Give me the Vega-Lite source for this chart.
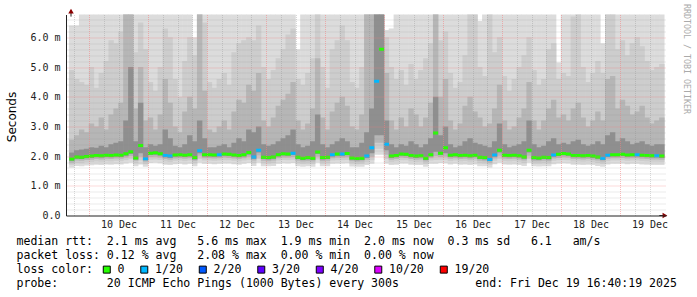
{
  "$schema": "https://vega.github.io/schema/vega-lite/v6.json",
  "width": 600,
  "height": 201,
  "autosize": "none",
  "padding": {"left": 66, "top": 14.5, "right": 31, "bottom": 81.5},
  "background": "white",
  "datasets": {
    "smoke": [
      {"t":"2025-12-09T17:00Z","m":1.90,"L":"0","a1":1.62,"a2":1.71,"a3":1.78,"a4":1.84,"b4":2.12,"b3":2.55,"b2":4.9,"b1":6.4},
      {"t":"2025-12-09T19:00Z","m":1.97,"L":"0","a1":1.67,"a2":1.77,"a3":1.85,"a4":1.91,"b4":2.20,"b3":2.70,"b2":4.6,"b1":6.4},
      {"t":"2025-12-09T21:00Z","m":1.96,"L":"0","a1":1.66,"a2":1.76,"a3":1.84,"a4":1.90,"b4":2.22,"b3":2.90,"b2":4.5,"b1":7.2},
      {"t":"2025-12-09T23:00Z","m":1.99,"L":"0","a1":1.68,"a2":1.79,"a3":1.87,"a4":1.93,"b4":2.25,"b3":2.80,"b2":4.4,"b1":7.2},
      {"t":"2025-12-10T01:00Z","m":2.00,"L":"0","a1":1.69,"a2":1.80,"a3":1.88,"a4":1.94,"b4":2.30,"b3":3.10,"b2":5.0,"b1":7.3},
      {"t":"2025-12-10T03:00Z","m":2.02,"L":"0","a1":1.71,"a2":1.82,"a3":1.90,"a4":1.96,"b4":2.28,"b3":3.00,"b2":4.3,"b1":7.1},
      {"t":"2025-12-10T05:00Z","m":2.01,"L":"0","a1":1.70,"a2":1.81,"a3":1.89,"a4":1.95,"b4":2.35,"b3":3.30,"b2":4.8,"b1":7.2},
      {"t":"2025-12-10T07:00Z","m":2.03,"L":"0","a1":1.72,"a2":1.83,"a3":1.91,"a4":1.97,"b4":2.30,"b3":2.90,"b2":5.2,"b1":7.4},
      {"t":"2025-12-10T09:00Z","m":2.02,"L":"0","a1":1.71,"a2":1.82,"a3":1.90,"a4":1.96,"b4":2.40,"b3":3.40,"b2":5.9,"b1":7.2},
      {"t":"2025-12-10T11:00Z","m":2.04,"L":"0","a1":1.73,"a2":1.84,"a3":1.92,"a4":1.98,"b4":2.45,"b3":3.60,"b2":5.8,"b1":7.5},
      {"t":"2025-12-10T13:00Z","m":2.03,"L":"0","a1":1.72,"a2":1.83,"a3":1.91,"a4":1.97,"b4":2.50,"b3":3.80,"b2":6.2,"b1":7.5},
      {"t":"2025-12-10T15:00Z","m":2.08,"L":"0","a1":1.75,"a2":1.86,"a3":1.95,"a4":2.01,"b4":3.20,"b3":7.00,"b2":7.2,"b1":7.6},
      {"t":"2025-12-10T17:00Z","m":2.15,"L":"0","a1":1.78,"a2":1.90,"a3":2.00,"a4":2.07,"b4":5.00,"b3":6.90,"b2":7.2,"b1":7.6},
      {"t":"2025-12-10T19:00Z","m":1.94,"L":"0","a1":1.66,"a2":1.76,"a3":1.84,"a4":1.89,"b4":2.50,"b3":3.60,"b2":5.5,"b1":7.3},
      {"t":"2025-12-10T21:00Z","m":2.36,"L":"0","a1":1.72,"a2":1.85,"a3":1.98,"a4":2.10,"b4":3.80,"b3":5.00,"b2":6.5,"b1":7.4},
      {"t":"2025-12-10T23:00Z","m":1.91,"L":"1/20","a1":1.64,"a2":1.73,"a3":1.81,"a4":1.86,"b4":2.30,"b3":3.20,"b2":5.6,"b1":7.3},
      {"t":"2025-12-11T01:00Z","m":2.10,"L":"0","a1":1.77,"a2":1.88,"a3":1.97,"a4":2.04,"b4":2.40,"b3":3.30,"b2":4.5,"b1":7.2},
      {"t":"2025-12-11T03:00Z","m":2.11,"L":"0","a1":1.78,"a2":1.89,"a3":1.98,"a4":2.05,"b4":2.35,"b3":2.90,"b2":4.2,"b1":7.1},
      {"t":"2025-12-11T05:00Z","m":2.08,"L":"0","a1":1.76,"a2":1.87,"a3":1.95,"a4":2.02,"b4":2.40,"b3":3.40,"b2":5.0,"b1":7.2},
      {"t":"2025-12-11T07:00Z","m":2.02,"L":"1/20","a1":1.71,"a2":1.82,"a3":1.90,"a4":1.96,"b4":2.90,"b3":4.60,"b2":6.3,"b1":7.4},
      {"t":"2025-12-11T09:00Z","m":2.00,"L":"1/20","a1":1.70,"a2":1.80,"a3":1.88,"a4":1.94,"b4":2.60,"b3":3.80,"b2":6.0,"b1":7.3},
      {"t":"2025-12-11T11:00Z","m":2.04,"L":"0","a1":1.73,"a2":1.84,"a3":1.92,"a4":1.98,"b4":2.35,"b3":3.00,"b2":4.6,"b1":7.2},
      {"t":"2025-12-11T13:00Z","m":2.05,"L":"0","a1":1.74,"a2":1.85,"a3":1.93,"a4":1.99,"b4":2.30,"b3":2.80,"b2":4.0,"b1":7.1},
      {"t":"2025-12-11T15:00Z","m":2.03,"L":"0","a1":1.72,"a2":1.83,"a3":1.91,"a4":1.97,"b4":2.40,"b3":3.50,"b2":5.2,"b1":7.2},
      {"t":"2025-12-11T17:00Z","m":2.05,"L":"0","a1":1.74,"a2":1.85,"a3":1.93,"a4":1.99,"b4":2.70,"b3":4.00,"b2":6.0,"b1":7.3},
      {"t":"2025-12-11T19:00Z","m":1.95,"L":"0","a1":1.66,"a2":1.76,"a3":1.84,"a4":1.89,"b4":2.50,"b3":3.60,"b2":5.4,"b1":6.0},
      {"t":"2025-12-11T21:00Z","m":2.18,"L":"1/20","a1":1.78,"a2":1.90,"a3":2.01,"a4":2.10,"b4":3.20,"b3":7.00,"b2":7.2,"b1":7.4},
      {"t":"2025-12-11T23:00Z","m":2.05,"L":"0","a1":1.74,"a2":1.85,"a3":1.93,"a4":1.99,"b4":2.60,"b3":4.20,"b2":6.5,"b1":7.3},
      {"t":"2025-12-12T01:00Z","m":2.05,"L":"0","a1":1.74,"a2":1.85,"a3":1.93,"a4":1.99,"b4":2.30,"b3":2.90,"b2":4.5,"b1":7.2},
      {"t":"2025-12-12T03:00Z","m":2.04,"L":"0","a1":1.73,"a2":1.84,"a3":1.92,"a4":1.98,"b4":2.30,"b3":2.80,"b2":4.3,"b1":7.1},
      {"t":"2025-12-12T05:00Z","m":2.05,"L":"1/20","a1":1.74,"a2":1.85,"a3":1.93,"a4":1.99,"b4":2.35,"b3":3.00,"b2":4.6,"b1":7.2},
      {"t":"2025-12-12T07:00Z","m":2.07,"L":"0","a1":1.75,"a2":1.86,"a3":1.95,"a4":2.01,"b4":2.40,"b3":3.20,"b2":4.8,"b1":7.3},
      {"t":"2025-12-12T09:00Z","m":2.06,"L":"0","a1":1.75,"a2":1.86,"a3":1.94,"a4":2.00,"b4":2.30,"b3":2.90,"b2":4.4,"b1":7.2},
      {"t":"2025-12-12T11:00Z","m":2.04,"L":"0","a1":1.73,"a2":1.84,"a3":1.92,"a4":1.98,"b4":2.45,"b3":3.50,"b2":5.5,"b1":7.2},
      {"t":"2025-12-12T13:00Z","m":2.02,"L":"0","a1":1.71,"a2":1.82,"a3":1.90,"a4":1.96,"b4":2.60,"b3":3.90,"b2":5.8,"b1":7.3},
      {"t":"2025-12-12T15:00Z","m":2.05,"L":"0","a1":1.74,"a2":1.85,"a3":1.93,"a4":1.99,"b4":2.50,"b3":3.80,"b2":5.9,"b1":7.2},
      {"t":"2025-12-12T17:00Z","m":2.12,"L":"0","a1":1.77,"a2":1.88,"a3":1.98,"a4":2.05,"b4":2.90,"b3":4.40,"b2":6.0,"b1":7.3},
      {"t":"2025-12-12T19:00Z","m":1.97,"L":"1/20","a1":1.67,"a2":1.77,"a3":1.85,"a4":1.91,"b4":2.80,"b3":4.20,"b2":5.9,"b1":7.3},
      {"t":"2025-12-12T21:00Z","m":2.20,"L":"1/20","a1":1.78,"a2":1.90,"a3":2.02,"a4":2.12,"b4":3.00,"b3":4.80,"b2":6.4,"b1":7.3},
      {"t":"2025-12-12T23:00Z","m":1.96,"L":"0","a1":1.66,"a2":1.76,"a3":1.84,"a4":1.90,"b4":2.40,"b3":3.20,"b2":5.0,"b1":7.2},
      {"t":"2025-12-13T01:00Z","m":1.95,"L":"0","a1":1.66,"a2":1.75,"a3":1.83,"a4":1.89,"b4":2.35,"b3":3.00,"b2":4.6,"b1":7.2},
      {"t":"2025-12-13T03:00Z","m":1.97,"L":"0","a1":1.67,"a2":1.77,"a3":1.85,"a4":1.91,"b4":2.40,"b3":3.30,"b2":4.9,"b1":7.2},
      {"t":"2025-12-13T05:00Z","m":2.05,"L":"0","a1":1.74,"a2":1.85,"a3":1.93,"a4":1.99,"b4":2.50,"b3":3.70,"b2":5.3,"b1":7.3},
      {"t":"2025-12-13T07:00Z","m":2.08,"L":"0","a1":1.76,"a2":1.87,"a3":1.95,"a4":2.02,"b4":2.60,"b3":3.90,"b2":5.6,"b1":7.3},
      {"t":"2025-12-13T09:00Z","m":2.07,"L":"0","a1":1.75,"a2":1.86,"a3":1.95,"a4":2.01,"b4":2.70,"b3":4.10,"b2":6.1,"b1":7.3},
      {"t":"2025-12-13T11:00Z","m":2.10,"L":"1/20","a1":1.77,"a2":1.88,"a3":1.97,"a4":2.04,"b4":2.90,"b3":4.50,"b2":6.3,"b1":7.4},
      {"t":"2025-12-13T13:00Z","m":1.96,"L":"0","a1":1.66,"a2":1.76,"a3":1.84,"a4":1.90,"b4":2.40,"b3":3.20,"b2":4.6,"b1":5.6},
      {"t":"2025-12-13T15:00Z","m":1.93,"L":"0","a1":1.64,"a2":1.74,"a3":1.82,"a4":1.87,"b4":2.30,"b3":2.90,"b2":4.4,"b1":7.1},
      {"t":"2025-12-13T17:00Z","m":1.95,"L":"0","a1":1.66,"a2":1.75,"a3":1.83,"a4":1.89,"b4":2.35,"b3":3.10,"b2":4.8,"b1":7.2},
      {"t":"2025-12-13T19:00Z","m":1.93,"L":"0","a1":1.64,"a2":1.74,"a3":1.82,"a4":1.87,"b4":2.50,"b3":3.60,"b2":5.3,"b1":7.2},
      {"t":"2025-12-13T21:00Z","m":2.14,"L":"0","a1":1.78,"a2":1.89,"a3":1.99,"a4":2.07,"b4":3.40,"b3":5.30,"b2":7.0,"b1":7.4},
      {"t":"2025-12-13T23:00Z","m":1.95,"L":"0","a1":1.66,"a2":1.75,"a3":1.83,"a4":1.89,"b4":2.40,"b3":3.30,"b2":5.0,"b1":7.3},
      {"t":"2025-12-14T01:00Z","m":1.96,"L":"0","a1":1.66,"a2":1.76,"a3":1.84,"a4":1.90,"b4":2.30,"b3":2.90,"b2":4.3,"b1":7.2},
      {"t":"2025-12-14T03:00Z","m":2.05,"L":"1/20","a1":1.74,"a2":1.85,"a3":1.93,"a4":1.99,"b4":2.40,"b3":3.50,"b2":5.6,"b1":7.3},
      {"t":"2025-12-14T05:00Z","m":2.07,"L":"0","a1":1.75,"a2":1.86,"a3":1.95,"a4":2.01,"b4":2.50,"b3":3.80,"b2":5.9,"b1":7.3},
      {"t":"2025-12-14T07:00Z","m":2.07,"L":"1/20","a1":1.75,"a2":1.86,"a3":1.95,"a4":2.01,"b4":2.60,"b3":4.00,"b2":6.4,"b1":7.3},
      {"t":"2025-12-14T09:00Z","m":2.09,"L":"0","a1":1.76,"a2":1.87,"a3":1.96,"a4":2.03,"b4":2.50,"b3":3.70,"b2":5.9,"b1":7.2},
      {"t":"2025-12-14T11:00Z","m":1.94,"L":"0","a1":1.65,"a2":1.75,"a3":1.83,"a4":1.88,"b4":2.30,"b3":3.00,"b2":4.5,"b1":7.2},
      {"t":"2025-12-14T13:00Z","m":1.92,"L":"0","a1":1.64,"a2":1.73,"a3":1.81,"a4":1.86,"b4":2.30,"b3":2.90,"b2":4.3,"b1":7.1},
      {"t":"2025-12-14T15:00Z","m":1.93,"L":"0","a1":1.64,"a2":1.74,"a3":1.82,"a4":1.87,"b4":2.45,"b3":3.40,"b2":5.0,"b1":7.2},
      {"t":"2025-12-14T17:00Z","m":2.00,"L":"1/20","a1":1.70,"a2":1.80,"a3":1.88,"a4":1.94,"b4":2.80,"b3":7.00,"b2":7.2,"b1":7.4},
      {"t":"2025-12-14T19:00Z","m":2.28,"L":"1/20","a1":1.74,"a2":1.86,"a3":1.98,"a4":2.10,"b4":3.60,"b3":7.00,"b2":7.2,"b1":7.4},
      {"t":"2025-12-14T21:00Z","m":4.52,"L":"1/20","a1":2.05,"a2":2.25,"a3":2.45,"a4":2.70,"b4":7.00,"b3":7.20,"b2":7.3,"b1":7.5},
      {"t":"2025-12-14T23:00Z","m":5.60,"L":"0","a1":2.05,"a2":2.25,"a3":2.45,"a4":2.70,"b4":7.00,"b3":7.20,"b2":7.3,"b1":7.5},
      {"t":"2025-12-15T01:00Z","m":2.40,"L":"1/20","a1":1.75,"a2":1.90,"a3":2.05,"a4":2.20,"b4":3.20,"b3":4.80,"b2":6.0,"b1":6.25},
      {"t":"2025-12-15T03:00Z","m":2.00,"L":"0","a1":1.70,"a2":1.80,"a3":1.88,"a4":1.94,"b4":2.40,"b3":3.20,"b2":5.0,"b1":6.3},
      {"t":"2025-12-15T05:00Z","m":2.02,"L":"0","a1":1.71,"a2":1.82,"a3":1.90,"a4":1.96,"b4":2.30,"b3":2.90,"b2":4.6,"b1":7.2},
      {"t":"2025-12-15T07:00Z","m":2.07,"L":"0","a1":1.75,"a2":1.86,"a3":1.95,"a4":2.01,"b4":2.40,"b3":3.30,"b2":4.9,"b1":7.2},
      {"t":"2025-12-15T09:00Z","m":2.06,"L":"0","a1":1.75,"a2":1.86,"a3":1.94,"a4":2.00,"b4":2.35,"b3":3.00,"b2":4.4,"b1":7.1},
      {"t":"2025-12-15T11:00Z","m":2.02,"L":"0","a1":1.71,"a2":1.82,"a3":1.90,"a4":1.96,"b4":2.50,"b3":3.60,"b2":5.1,"b1":7.2},
      {"t":"2025-12-15T13:00Z","m":2.00,"L":"0","a1":1.70,"a2":1.80,"a3":1.88,"a4":1.94,"b4":2.40,"b3":3.40,"b2":4.6,"b1":7.2},
      {"t":"2025-12-15T15:00Z","m":2.01,"L":"0","a1":1.70,"a2":1.81,"a3":1.89,"a4":1.95,"b4":2.30,"b3":3.00,"b2":4.9,"b1":7.2},
      {"t":"2025-12-15T17:00Z","m":1.93,"L":"0","a1":1.64,"a2":1.74,"a3":1.82,"a4":1.87,"b4":2.40,"b3":3.30,"b2":5.3,"b1":7.2},
      {"t":"2025-12-15T19:00Z","m":2.05,"L":"0","a1":1.74,"a2":1.85,"a3":1.93,"a4":1.99,"b4":2.60,"b3":3.80,"b2":5.8,"b1":7.3},
      {"t":"2025-12-15T21:00Z","m":2.78,"L":"0","a1":1.74,"a2":1.87,"a3":2.00,"a4":2.15,"b4":4.00,"b3":7.00,"b2":7.2,"b1":7.4},
      {"t":"2025-12-15T23:00Z","m":2.10,"L":"0","a1":1.77,"a2":1.88,"a3":1.97,"a4":2.04,"b4":2.70,"b3":4.00,"b2":5.9,"b1":7.3},
      {"t":"2025-12-16T01:00Z","m":2.28,"L":"0","a1":1.76,"a2":1.88,"a3":1.99,"a4":2.10,"b4":3.00,"b3":4.60,"b2":6.2,"b1":7.3},
      {"t":"2025-12-16T03:00Z","m":2.03,"L":"0","a1":1.72,"a2":1.83,"a3":1.91,"a4":1.97,"b4":2.40,"b3":3.20,"b2":4.8,"b1":7.2},
      {"t":"2025-12-16T05:00Z","m":2.05,"L":"0","a1":1.74,"a2":1.85,"a3":1.93,"a4":1.99,"b4":2.30,"b3":2.90,"b2":4.3,"b1":7.1},
      {"t":"2025-12-16T07:00Z","m":2.02,"L":"0","a1":1.71,"a2":1.82,"a3":1.90,"a4":1.96,"b4":2.35,"b3":3.10,"b2":4.5,"b1":7.2},
      {"t":"2025-12-16T09:00Z","m":2.03,"L":"0","a1":1.72,"a2":1.83,"a3":1.91,"a4":1.97,"b4":2.50,"b3":3.70,"b2":5.4,"b1":7.2},
      {"t":"2025-12-16T11:00Z","m":2.01,"L":"0","a1":1.70,"a2":1.81,"a3":1.89,"a4":1.95,"b4":2.60,"b3":4.00,"b2":6.8,"b1":7.3},
      {"t":"2025-12-16T13:00Z","m":2.03,"L":"0","a1":1.72,"a2":1.83,"a3":1.91,"a4":1.97,"b4":2.45,"b3":3.50,"b2":6.9,"b1":7.3},
      {"t":"2025-12-16T15:00Z","m":1.96,"L":"0","a1":1.66,"a2":1.76,"a3":1.84,"a4":1.90,"b4":2.40,"b3":3.30,"b2":5.0,"b1":6.55},
      {"t":"2025-12-16T17:00Z","m":1.95,"L":"0","a1":1.66,"a2":1.75,"a3":1.83,"a4":1.89,"b4":2.35,"b3":3.00,"b2":4.7,"b1":7.2},
      {"t":"2025-12-16T19:00Z","m":1.89,"L":"1/20","a1":1.62,"a2":1.71,"a3":1.78,"a4":1.84,"b4":2.30,"b3":3.10,"b2":6.8,"b1":7.3},
      {"t":"2025-12-16T21:00Z","m":2.04,"L":"1/20","a1":1.73,"a2":1.84,"a3":1.92,"a4":1.98,"b4":2.50,"b3":3.60,"b2":5.5,"b1":7.2},
      {"t":"2025-12-16T23:00Z","m":2.20,"L":"0","a1":1.78,"a2":1.90,"a3":2.01,"a4":2.12,"b4":3.10,"b3":4.40,"b2":6.0,"b1":7.3},
      {"t":"2025-12-17T01:00Z","m":2.03,"L":"0","a1":1.72,"a2":1.83,"a3":1.91,"a4":1.97,"b4":2.40,"b3":3.20,"b2":4.7,"b1":7.2},
      {"t":"2025-12-17T03:00Z","m":2.02,"L":"0","a1":1.71,"a2":1.82,"a3":1.90,"a4":1.96,"b4":2.30,"b3":2.90,"b2":4.2,"b1":7.1},
      {"t":"2025-12-17T05:00Z","m":2.03,"L":"0","a1":1.72,"a2":1.83,"a3":1.91,"a4":1.97,"b4":2.35,"b3":3.00,"b2":4.6,"b1":7.2},
      {"t":"2025-12-17T07:00Z","m":2.01,"L":"0","a1":1.70,"a2":1.81,"a3":1.89,"a4":1.95,"b4":2.40,"b3":3.30,"b2":5.0,"b1":7.2},
      {"t":"2025-12-17T09:00Z","m":1.97,"L":"0","a1":1.67,"a2":1.77,"a3":1.85,"a4":1.91,"b4":2.50,"b3":3.60,"b2":5.4,"b1":7.2},
      {"t":"2025-12-17T11:00Z","m":2.20,"L":"0","a1":1.78,"a2":1.90,"a3":2.01,"a4":2.12,"b4":3.20,"b3":4.50,"b2":6.0,"b1":7.3},
      {"t":"2025-12-17T13:00Z","m":1.95,"L":"0","a1":1.66,"a2":1.75,"a3":1.83,"a4":1.89,"b4":2.40,"b3":3.20,"b2":4.9,"b1":7.2},
      {"t":"2025-12-17T15:00Z","m":1.94,"L":"0","a1":1.65,"a2":1.75,"a3":1.83,"a4":1.88,"b4":2.30,"b3":2.90,"b2":4.4,"b1":7.2},
      {"t":"2025-12-17T17:00Z","m":1.96,"L":"0","a1":1.66,"a2":1.76,"a3":1.84,"a4":1.90,"b4":2.35,"b3":3.20,"b2":4.6,"b1":7.2},
      {"t":"2025-12-17T19:00Z","m":1.95,"L":"0","a1":1.66,"a2":1.75,"a3":1.83,"a4":1.89,"b4":2.50,"b3":3.60,"b2":5.6,"b1":7.2},
      {"t":"2025-12-17T21:00Z","m":2.04,"L":"1/20","a1":1.73,"a2":1.84,"a3":1.92,"a4":1.98,"b4":2.60,"b3":3.90,"b2":5.8,"b1":7.3},
      {"t":"2025-12-17T23:00Z","m":2.06,"L":"0","a1":1.75,"a2":1.86,"a3":1.94,"a4":2.00,"b4":2.40,"b3":3.30,"b2":4.6,"b1":5.15},
      {"t":"2025-12-18T01:00Z","m":2.09,"L":"0","a1":1.76,"a2":1.87,"a3":1.96,"a4":2.03,"b4":2.45,"b3":3.40,"b2":4.8,"b1":7.2},
      {"t":"2025-12-18T03:00Z","m":2.07,"L":"0","a1":1.75,"a2":1.86,"a3":1.95,"a4":2.01,"b4":2.40,"b3":3.20,"b2":4.7,"b1":7.2},
      {"t":"2025-12-18T05:00Z","m":2.02,"L":"0","a1":1.71,"a2":1.82,"a3":1.90,"a4":1.96,"b4":2.50,"b3":3.60,"b2":6.7,"b1":7.3},
      {"t":"2025-12-18T07:00Z","m":2.02,"L":"0","a1":1.71,"a2":1.82,"a3":1.90,"a4":1.96,"b4":2.55,"b3":3.80,"b2":6.8,"b1":7.3},
      {"t":"2025-12-18T09:00Z","m":2.01,"L":"0","a1":1.70,"a2":1.81,"a3":1.89,"a4":1.95,"b4":2.40,"b3":3.30,"b2":5.0,"b1":7.2},
      {"t":"2025-12-18T11:00Z","m":2.02,"L":"0","a1":1.71,"a2":1.82,"a3":1.90,"a4":1.96,"b4":2.35,"b3":3.00,"b2":4.5,"b1":7.2},
      {"t":"2025-12-18T13:00Z","m":2.00,"L":"0","a1":1.70,"a2":1.80,"a3":1.88,"a4":1.94,"b4":2.40,"b3":3.20,"b2":4.8,"b1":7.2},
      {"t":"2025-12-18T15:00Z","m":1.97,"L":"0","a1":1.67,"a2":1.77,"a3":1.85,"a4":1.91,"b4":2.50,"b3":3.50,"b2":5.2,"b1":7.2},
      {"t":"2025-12-18T17:00Z","m":1.93,"L":"1/20","a1":1.64,"a2":1.74,"a3":1.82,"a4":1.87,"b4":2.40,"b3":3.20,"b2":4.8,"b1":5.8},
      {"t":"2025-12-18T19:00Z","m":2.03,"L":"1/20","a1":1.72,"a2":1.83,"a3":1.91,"a4":1.97,"b4":2.70,"b3":4.60,"b2":6.9,"b1":7.3},
      {"t":"2025-12-18T21:00Z","m":2.05,"L":"0","a1":1.74,"a2":1.85,"a3":1.93,"a4":1.99,"b4":2.80,"b3":4.70,"b2":6.9,"b1":7.3},
      {"t":"2025-12-18T23:00Z","m":2.05,"L":"0","a1":1.74,"a2":1.85,"a3":1.93,"a4":1.99,"b4":2.50,"b3":3.60,"b2":5.6,"b1":7.2},
      {"t":"2025-12-19T01:00Z","m":2.06,"L":"0","a1":1.75,"a2":1.86,"a3":1.94,"a4":2.00,"b4":2.60,"b3":3.90,"b2":5.9,"b1":7.3},
      {"t":"2025-12-19T03:00Z","m":2.04,"L":"0","a1":1.73,"a2":1.84,"a3":1.92,"a4":1.98,"b4":2.50,"b3":3.70,"b2":5.4,"b1":7.2},
      {"t":"2025-12-19T05:00Z","m":2.05,"L":"0","a1":1.74,"a2":1.85,"a3":1.93,"a4":1.99,"b4":2.40,"b3":3.40,"b2":5.8,"b1":7.2},
      {"t":"2025-12-19T07:00Z","m":2.05,"L":"1/20","a1":1.74,"a2":1.85,"a3":1.93,"a4":1.99,"b4":2.45,"b3":3.50,"b2":6.0,"b1":7.3},
      {"t":"2025-12-19T09:00Z","m":2.03,"L":"0","a1":1.72,"a2":1.83,"a3":1.91,"a4":1.97,"b4":2.50,"b3":3.70,"b2":5.7,"b1":7.2},
      {"t":"2025-12-19T11:00Z","m":2.02,"L":"0","a1":1.71,"a2":1.82,"a3":1.90,"a4":1.96,"b4":2.40,"b3":3.30,"b2":5.2,"b1":7.2},
      {"t":"2025-12-19T13:00Z","m":2.01,"L":"0","a1":1.70,"a2":1.81,"a3":1.89,"a4":1.95,"b4":2.35,"b3":3.10,"b2":4.9,"b1":7.2},
      {"t":"2025-12-19T15:00Z","m":2.01,"L":"1/20","a1":1.70,"a2":1.81,"a3":1.89,"a4":1.95,"b4":2.40,"b3":3.20,"b2":5.0,"b1":7.2},
      {"t":"2025-12-19T17:00Z","m":2.00,"L":"0","a1":1.70,"a2":1.80,"a3":1.88,"a4":1.94,"b4":2.40,"b3":3.30,"b2":5.1,"b1":7.2}
    ]
  },
  "data": {"name": "smoke"},
  "encoding": {
    "x": {
      "field": "t",
      "type": "temporal",
      "scale": {"type": "utc", "domain": [1765298419000, 1766162419000], "nice": false},
      "axis": {
        "title": [
          "median rtt:\u00a0\u00a02.1 ms avg\u00a0\u00a0\u00a05.6 ms max\u00a0\u00a01.9 ms min\u00a0\u00a02.0 ms now\u00a0\u00a00.3 ms sd\u00a0\u00a0\u00a06.1\u00a0\u00a0\u00a0am/s",
          "packet loss: 0.12 % avg\u00a0\u00a0\u00a02.08 % max\u00a0\u00a00.00 % min\u00a0\u00a00.00 % now",
          "loss color:",
          "probe:\u00a0\u00a0\u00a0\u00a0\u00a0\u00a0\u00a020 ICMP Echo Pings (1000 Bytes) every 300s\u00a0\u00a0\u00a0\u00a0\u00a0\u00a0\u00a0\u00a0\u00a0\u00a0\u00a0end: Fri Dec 19 16:40:19 2025"
        ],
        "values": [1765303200000,1765324800000,1765346400000,1765368000000,1765389600000,1765411200000,1765432800000,1765454400000,1765476000000,1765497600000,1765519200000,1765540800000,1765562400000,1765584000000,1765605600000,1765627200000,1765648800000,1765670400000,1765692000000,1765713600000,1765735200000,1765756800000,1765778400000,1765800000000,1765821600000,1765843200000,1765864800000,1765886400000,1765908000000,1765929600000,1765951200000,1765972800000,1765994400000,1766016000000,1766037600000,1766059200000,1766080800000,1766102400000,1766124000000,1766145600000],
        "tickCount": 200,
        "labelExpr": "utchours(datum.value) === 12 ? utcFormat(datum.value, '%d %b') : ''",
        "labelOverlap": false,
        "labelFlush": false,
        "labelAngle": 0,
        "ticks": false,
        "domain": true,
        "domainColor": "#222222",
        "domainWidth": 1,
        "grid": true,
        "gridColor": {"condition": {"test": "utchours(datum.value) === 0", "value": "rgba(245,128,128,0.55)"}, "value": "rgba(140,140,140,0.35)"},
        "gridDash": [1, 1],
        "gridWidth": 1,
        "labelFont": "DejaVu Sans Mono",
        "labelFontSize": 10,
        "labelColor": "#222222",
        "labelPadding": 4,
        "titleFont": "DejaVu Sans Mono",
        "titleFontSize": 11.56,
        "titleFontWeight": "normal",
        "titleColor": "#000000",
        "titleAlign": "left",
        "titleBaseline": "top",
        "titleX": -50,
        "titleY": 20,
        "titleLineHeight": 14,
        "zindex": 1
      }
    }
  },
  "layer": [
    {
      "mark": {"type": "bar", "color": "#dcdcdc", "clip": true, "width": 5.4},
      "encoding": {
        "y": {
          "field": "a1",
          "type": "quantitative",
          "scale": {"domain": [0, 6.77], "nice": false, "zero": false},
          "axis": {
            "title": "Seconds",
            "values": [0,0.2,0.4,0.6,0.8,1,1.2,1.4,1.6,1.8,2,2.2,2.4,2.6,2.8,3,3.2,3.4,3.6,3.8,4,4.2,4.4,4.6,4.8,5,5.2,5.4,5.6,5.8,6,6.2,6.4,6.6],
            "tickCount": 200,
            "labelExpr": "datum.value % 1 === 0 ? (datum.value === 0 ? '0.0' : format(datum.value, '.1f') + ' m') : ''",
            "labelOverlap": false,
            "labelFlush": false,
            "ticks": false,
            "domain": true,
            "domainColor": "#222222",
            "domainWidth": 1,
            "grid": true,
            "gridColor": {"condition": {"test": "datum.value % 1 === 0", "value": "rgba(245,128,128,0.55)"}, "value": "rgba(140,140,140,0.35)"},
            "gridOpacity": {"condition": {"test": "datum.value === 0", "value": 0}, "value": 1},
            "gridDash": [1, 1],
            "labelFont": "DejaVu Sans Mono",
            "labelFontSize": 10,
            "labelColor": "#222222",
            "labelPadding": 6,
            "titleFont": "DejaVu Sans",
            "titleFontSize": 12,
            "titleFontWeight": "normal",
            "titleColor": "#000000",
            "titleAngle": 270,
            "titleAlign": "center",
            "titleBaseline": "middle",
            "titleX": -55,
            "titleY": 102,
            "zindex": 1
          }
        },
        "y2": {"field": "b1"}
      }
    },
    {
      "mark": {"type": "bar", "color": "#cdcdcd", "clip": true, "width": 5.4},
      "encoding": {
        "y": {"field": "a2", "type": "quantitative"},
        "y2": {"field": "b2"}
      }
    },
    {
      "mark": {"type": "bar", "color": "#b6b6b6", "clip": true, "width": 5.4},
      "encoding": {
        "y": {"field": "a3", "type": "quantitative"},
        "y2": {"field": "b3"}
      }
    },
    {
      "mark": {"type": "bar", "color": "#8f8f8f", "clip": true, "width": 5.4},
      "encoding": {
        "y": {"field": "a4", "type": "quantitative"},
        "y2": {"field": "b4"}
      }
    },
    {
      "mark": {"type": "tick", "orient": "horizontal", "size": 5, "thickness": 3, "opacity": 1, "clip": true},
      "encoding": {
        "y": {"field": "m", "type": "quantitative"},
        "color": {
          "field": "L",
          "type": "nominal",
          "scale": {
            "domain": ["0", "1/20", "2/20", "3/20", "4/20", "10/20", "19/20"],
            "range": ["#26ff00", "#00b8ff", "#0059ff", "#5e00ff", "#7e00ff", "#dd00ff", "#ff0000"]
          },
          "legend": {
            "orient": "none",
            "legendX": 35,
            "legendY": 249,
            "direction": "horizontal",
            "title": null,
            "symbolType": "square",
            "symbolSize": 49,
            "symbolStrokeColor": "#000000",
            "symbolStrokeWidth": 1,
            "symbolOpacity": 1,
            "labelFont": "DejaVu Sans Mono",
            "labelFontSize": 11.56,
            "labelColor": "#000000",
            "labelOffset": 5,
            "columnPadding": 13.5,
            "padding": 0,
            "labelLimit": 200
          }
        }
      }
    },
    {
      "transform": [{"filter": "datum.m > 5"}],
      "mark": {"type": "rule", "color": "#222222", "strokeWidth": 1},
      "encoding": {
        "x": {"datum": {"year": 2025, "month": 12, "date": 9, "hours": 16, "minutes": 40, "seconds": 19, "utc": true}, "type": "temporal"},
        "y": {"datum": 6.7, "type": "quantitative"},
        "y2": {"datum": 6.85}
      }
    },
    {
      "transform": [{"filter": "datum.m > 5"}],
      "mark": {"type": "rule", "color": "#222222", "strokeWidth": 1},
      "encoding": {
        "x": {"datum": {"year": 2025, "month": 12, "date": 19, "hours": 16, "minutes": 0, "seconds": 0, "utc": true}, "type": "temporal"},
        "x2": {"datum": {"year": 2025, "month": 12, "date": 19, "hours": 18, "minutes": 4, "seconds": 19, "utc": true}},
        "y": {"datum": 0, "type": "quantitative"}
      }
    },
    {
      "transform": [{"filter": "datum.m > 5"}],
      "mark": {"type": "point", "shape": "triangle-up", "filled": true, "color": "#8b0000", "size": 30, "opacity": 1},
      "encoding": {
        "x": {"datum": {"year": 2025, "month": 12, "date": 9, "hours": 16, "minutes": 40, "seconds": 19, "utc": true}, "type": "temporal"},
        "y": {"datum": 6.88, "type": "quantitative"}
      }
    },
    {
      "transform": [{"filter": "datum.m > 5"}],
      "mark": {"type": "point", "shape": "triangle-right", "filled": true, "color": "#8b0000", "size": 30, "opacity": 1},
      "encoding": {
        "x": {"datum": {"year": 2025, "month": 12, "date": 19, "hours": 18, "minutes": 16, "seconds": 19, "utc": true}, "type": "temporal"},
        "y": {"datum": 0, "type": "quantitative"}
      }
    },
    {
      "transform": [{"filter": "datum.m > 5"}],
      "mark": {"type": "text", "text": "RRDTOOL / TOBI OETIKER", "angle": 90, "align": "left", "baseline": "middle", "font": "DejaVu Sans Mono", "fontSize": 8.3, "color": "#aaaaaa"},
      "encoding": {
        "x": {"datum": {"year": 2025, "month": 12, "date": 20, "hours": 2, "minutes": 40, "seconds": 19, "utc": true}, "type": "temporal"},
        "y": {"datum": 7.12, "type": "quantitative"}
      }
    }
  ],
  "config": {
    "view": {"stroke": null}
  }
}
